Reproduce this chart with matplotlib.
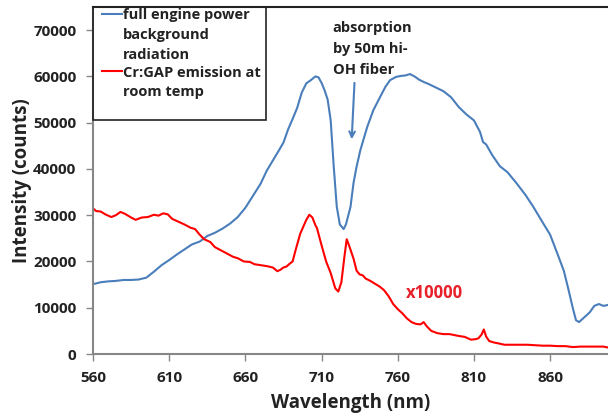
from matplotlib import pyplot as plt
from matplotlib.patches import Rectangle
import numpy as np

# Background radiation (blue) - wavelength in nm, intensity in counts
blue_wl = [560, 565, 570, 575, 580, 585, 590, 595, 600, 605, 610, 615, 620, 625, 630, 635,
           640, 645, 650, 655, 660, 665, 670, 674, 678, 682, 685, 688, 691, 694, 697, 700,
           703, 706, 708, 710, 712, 714, 716, 718, 720, 722, 724.5, 726, 729, 731, 733, 735.5,
           740, 744, 748.5, 752, 755, 759, 762, 765, 768, 771, 774, 777, 780, 785, 790, 795,
           800, 805, 810, 814, 816, 818, 822, 827, 832, 838, 844, 849, 855, 860, 865, 869,
           872, 875, 877, 879, 882, 886, 889, 892, 895, 898]
blue_val = [15100, 15500, 15700, 15800, 16000, 16000, 16100, 16500, 17800, 19200, 20300, 21500,
            22600, 23700, 24300, 25500, 26200, 27100, 28200, 29600, 31600, 34200, 36800, 39600,
            41800, 44000, 45700, 48500, 50800, 53200, 56500, 58500, 59200, 60000, 59800, 58600,
            57000, 55000, 50500, 40500, 31800, 28000, 27000, 28000, 31800, 37000, 40500, 44100,
            49100, 52700, 55600, 57800, 59200, 59900, 60100, 60200, 60500, 60000, 59300, 58800,
            58400, 57600, 56800, 55500, 53400, 51800, 50500, 48000, 45800, 45300, 43000, 40600,
            39300, 36900, 34300, 31800, 28500, 25800, 21500, 18000, 14000, 9800, 7300, 6900,
            7800, 9000, 10400, 10800, 10400, 10600]

# Cr:GAP emission (red), scaled x10000
red_wl = [560, 562, 565, 568, 572, 575, 578, 581, 585, 588, 592, 596, 600, 603, 606, 609,
          612, 616, 620, 624, 627, 630, 633, 637, 640, 644, 648, 652, 655, 659, 663, 666,
          670, 674, 678, 681, 683, 685, 687, 689, 691, 693, 696, 698, 700, 702, 704, 706,
          707, 710, 713, 716, 719, 721, 723, 725, 726.5, 728, 731, 733, 735, 737, 739, 742,
          745, 748, 751, 754, 757, 760, 763, 766, 769, 772, 775, 777, 779, 782, 786, 790,
          794, 797, 800, 804, 808, 811, 813, 815, 816.5, 818, 820, 823, 826, 830, 835, 840,
          845, 850, 855, 860, 865, 870, 875, 880, 885, 890, 895, 898]
red_val = [31500, 30900, 30800, 30200, 29600, 30000, 30700, 30300, 29500, 29000, 29500, 29600,
           30100, 29900, 30400, 30200, 29200, 28600, 28000, 27300, 27000, 25800, 24800, 24200,
           23100, 22400, 21700, 21000, 20700, 20000, 19900, 19400, 19200, 19000, 18700, 17900,
           18200, 18700, 18900, 19500, 20000, 22500, 26000, 27500, 29000, 30100, 29500, 27800,
           27200, 23500, 20000, 17500, 14200, 13500, 15500, 21000, 24800, 23500, 20600, 18000,
           17200, 17000, 16300, 15800, 15200, 14600, 13800, 12500, 10800, 9700, 8800, 7700,
           6900, 6500, 6400, 6900, 6000, 5000, 4500, 4300, 4300, 4100, 3900, 3700, 3100, 3200,
           3400, 4200, 5300, 3800, 2800, 2500, 2300, 2000, 2000, 2000, 2000, 1900, 1800, 1800,
           1700, 1700, 1500, 1600, 1600, 1600, 1600, 1400]

x_ticks = [560, 610, 660, 710, 760, 810, 860]
y_ticks = [0, 10000, 20000, 30000, 40000, 50000, 60000, 70000]

blue_label = ["full engine power", "background", "radiation"]
red_label = ["Cr:GAP emission at", "room temp"]
note_lines = ["absorption", "by 50m hi-", "OH fiber"]

BLUE = "#4a7ebb"
RED = "#ff0000"
GRAY = "#868686"
DARK = "#222222"

plt.rcParams['font.family'] = ['Open Sans', 'DejaVu Sans']
plt.rcParams['font.weight'] = 'bold'

fig = plt.figure(figsize=(6.08, 4.16), dpi=100)
ax = fig.add_axes([93 / 608, 62 / 416, 515 / 608, 347 / 416])

ax.plot(blue_wl, blue_val, color=BLUE, lw=1.5)
ax.plot(red_wl, red_val, color=RED, lw=1.5)

ax.set_xlim(560, 898)
ax.set_ylim(0, 75000)
ax.set_xticks(x_ticks)
ax.set_yticks(y_ticks)
ax.set_xticklabels([str(v) for v in x_ticks])
ax.set_yticklabels([str(v) for v in y_ticks])
ax.tick_params(axis='both', direction='out', length=5, width=1, color=GRAY,
               labelsize=11, pad=7, labelcolor=DARK)

ax.spines['right'].set_visible(False)
ax.spines['left'].set_color(GRAY)
ax.spines['bottom'].set_color(GRAY)
ax.spines['left'].set_linewidth(1.5)
ax.spines['bottom'].set_linewidth(1.5)
ax.spines['top'].set_color(DARK)
ax.spines['top'].set_linewidth(1.5)

ax.set_xlabel("Wavelength (nm)", fontsize=13.5, fontweight='bold', color=DARK, labelpad=6)
ax.set_ylabel("Intensity (counts)", fontsize=13.5, fontweight='bold', color=DARK, labelpad=1)

# Hand drawn legend box like the Excel one
ax.add_patch(Rectangle((0, 0.674), 0.336, 0.326, transform=ax.transAxes, fill=False,
                       edgecolor=DARK, lw=1.2, clip_on=False, zorder=5))
ax.plot([0.017, 0.056], [0.9798, 0.9798], color=BLUE, lw=1.5, transform=ax.transAxes, zorder=6)
ax.plot([0.017, 0.056], [0.8164, 0.8164], color=RED, lw=1.5, transform=ax.transAxes, zorder=6)
for line, yb in zip(blue_label + red_label, [0.9654, 0.9078, 0.8501, 0.7983, 0.7435]):
    ax.text(0.058, yb, line, transform=ax.transAxes, va='baseline', ha='left',
            fontsize=10.5, color=DARK)

# annotation for absorption dip
for line, yb in zip(note_lines, [69630, 65087, 60541]):
    ax.text(717.3, yb, line, va='baseline', ha='left', fontsize=10.5, color=DARK)
ax.annotate("", xy=(729.7, 45800), xytext=(731.7, 59200),
            arrowprops=dict(arrowstyle='->', color=BLUE, lw=1.5))

ax.text(765.2, 13100, "x10000", color="#e8202a", fontsize=12, va='center', ha='left')

fig.savefig("out.png", dpi=100)
